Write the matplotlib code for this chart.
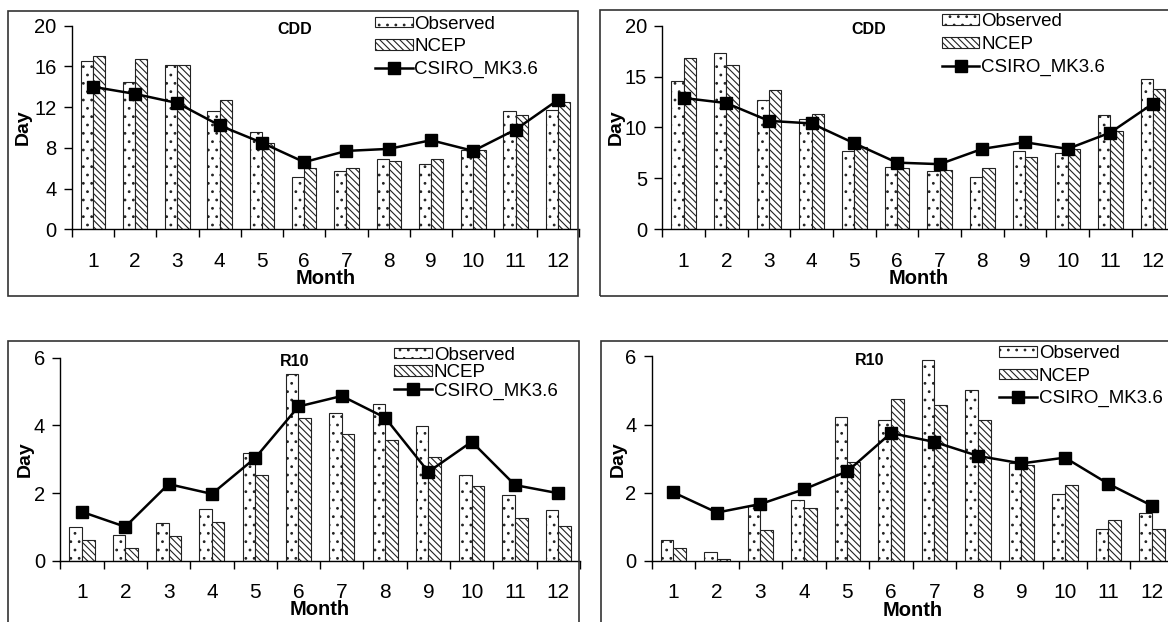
import matplotlib
matplotlib.use("Agg")
import matplotlib.pyplot as plt
from matplotlib.patches import Rectangle

plt.rcParams['font.family'] = ['Liberation Sans', 'DejaVu Sans']
plt.rcParams['hatch.linewidth'] = 0.8

# données
months = list(range(1, 13))

cdd_a_obs = [16.5, 14.5, 16.1, 11.6, 9.6, 5.1, 5.7, 6.9, 6.4, 7.8, 11.6, 11.7]
cdd_a_ncep = [17.05, 16.7, 16.1, 12.7, 8.45, 6.05, 6.0, 6.75, 6.95, 7.8, 11.2, 12.5]
cdd_a_csiro = [14.0, 13.3, 12.4, 10.2, 8.5, 6.6, 7.7, 7.9, 8.75, 7.7, 9.8, 12.7]

cdd_b_obs = [14.6, 17.3, 12.7, 10.8, 7.7, 6.1, 5.7, 5.1, 7.7, 7.45, 11.2, 14.8]
cdd_b_ncep = [16.85, 16.15, 13.7, 11.35, 8.1, 6.0, 5.8, 6.0, 7.15, 7.9, 9.7, 13.75]
cdd_b_csiro = [12.9, 12.4, 10.65, 10.4, 8.45, 6.55, 6.4, 7.9, 8.55, 7.9, 9.5, 12.35]

r10_a_obs = [0.99, 0.78, 1.12, 1.54, 3.18, 5.53, 4.37, 4.64, 3.97, 2.55, 1.94, 1.51]
r10_a_ncep = [0.61, 0.39, 0.73, 1.15, 2.53, 4.21, 3.74, 3.58, 3.06, 2.22, 1.27, 1.02]
r10_a_csiro = [1.45, 1.01, 2.27, 1.98, 3.04, 4.56, 4.87, 4.23, 2.63, 3.52, 2.24, 2.0]

r10_b_obs = [0.62, 0.27, 1.6, 1.8, 4.21, 4.13, 5.9, 5.02, 2.86, 1.96, 0.93, 1.42]
r10_b_ncep = [0.39, 0.05, 0.9, 1.56, 2.9, 4.76, 4.58, 4.13, 2.81, 2.23, 1.19, 0.95]
r10_b_csiro = [2.01, 1.42, 1.67, 2.1, 2.63, 3.75, 3.49, 3.08, 2.86, 3.03, 2.26, 1.62]

W, H = 1168, 622
fig = plt.figure(figsize=(W / 100, H / 100), dpi=100)


def px_box(x0, y_top, x1, y_bot):
    return [x0 / W, 1 - y_bot / H, (x1 - x0) / W, (y_bot - y_top) / H]


# cadres autour de chaque graphique
for (x0, y0, x1, y1) in [(7.5, 10.5, 578, 295.5), (600, 9.5, 1180, 296),
                         (7.5, 341, 579, 640), (601, 340.5, 1180, 640)]:
    fig.add_artist(Rectangle((x0 / W, 1 - y1 / H), (x1 - x0) / W, (y1 - y0) / H,
                             transform=fig.transFigure, fill=False,
                             edgecolor='#333333', linewidth=1.2))

panels = [
    (px_box(71.7, 25.7, 579, 229.3), cdd_a_obs, cdd_a_ncep, cdd_a_csiro, 'CDD',
     20, 4, (0.44, 0.979), (0.598, 1.05), 0.3, -0.095),
    (px_box(662.3, 25.7, 1174.3, 229.3), cdd_b_obs, cdd_b_ncep, cdd_b_csiro, 'CDD',
     20, 5, (0.404, 0.979), (0.546, 1.06), 0.3, -0.089),
    (px_box(60.3, 357.7, 580, 561), r10_a_obs, r10_a_ncep, r10_a_csiro, 'R10',
     6, 2, (0.45, 0.98), (0.643, 1.055), 0.05, -0.068),
    (px_box(651.7, 356.3, 1173.7, 561), r10_b_obs, r10_b_ncep, r10_b_csiro, 'R10',
     6, 2, (0.418, 0.978), (0.666, 1.055), 0.3, -0.064),
]

w = 0.29
for box, obs, ncep, csiro, title, ymax, ystep, tpos, lpos, lspace, ylx in panels:
    ax = fig.add_axes(box)
    xo = [m - w / 2 for m in months]
    xn = [m + w / 2 for m in months]
    b1 = ax.bar(xo, obs, width=w, facecolor='white', edgecolor='#222222',
                linewidth=0.8, hatch='..', label='Observed', zorder=2)
    b2 = ax.bar(xn, ncep, width=w, facecolor='white', edgecolor='#222222',
                linewidth=0.8, hatch='\\\\\\\\\\', label='NCEP', zorder=2)
    l1, = ax.plot(months, csiro, color='black', linewidth=1.8, marker='s',
                  markersize=8.5, label='CSIRO_MK3.6', zorder=3)

    ax.set_xlim(0.5, 12.5)
    ax.set_ylim(0, ymax)
    ax.set_yticks(range(0, ymax + 1, ystep))
    ax.set_xticks(months)
    ax.set_xticks([m + 0.5 for m in range(0, 13)], minor=True)
    ax.tick_params(axis='x', which='major', length=0, pad=16, labelsize=15)
    ax.tick_params(axis='x', which='minor', length=6, width=1, direction='out')
    ax.tick_params(axis='y', length=6, width=1, pad=5, labelsize=14.5)
    for s in ['top', 'right']:
        ax.spines[s].set_visible(False)
    for s in ['left', 'bottom']:
        ax.spines[s].set_linewidth(1.0)

    ax.set_xlabel('Month', fontsize=14.5, fontweight='bold')
    ax.xaxis.set_label_coords(0.5, -0.24)
    ax.xaxis.label.set_va('center')
    ax.set_ylabel('Day', fontsize=14, fontweight='bold')
    ax.yaxis.set_label_coords(ylx, 0.5)
    ax.yaxis.label.set_va('center')

    ax.text(tpos[0], tpos[1], title, transform=ax.transAxes, ha='center',
            va='center', fontsize=11.5, fontweight='bold')

    ax.legend([b1, b2, l1], ['Observed', 'NCEP', 'CSIRO_MK3.6'],
              loc='upper left', bbox_to_anchor=lpos, frameon=False,
              fontsize=13.5, borderpad=0, borderaxespad=0, handlelength=2.0,
              handleheight=0.5, handletextpad=0.1, labelspacing=lspace)

fig.savefig('out.png', dpi=100)
